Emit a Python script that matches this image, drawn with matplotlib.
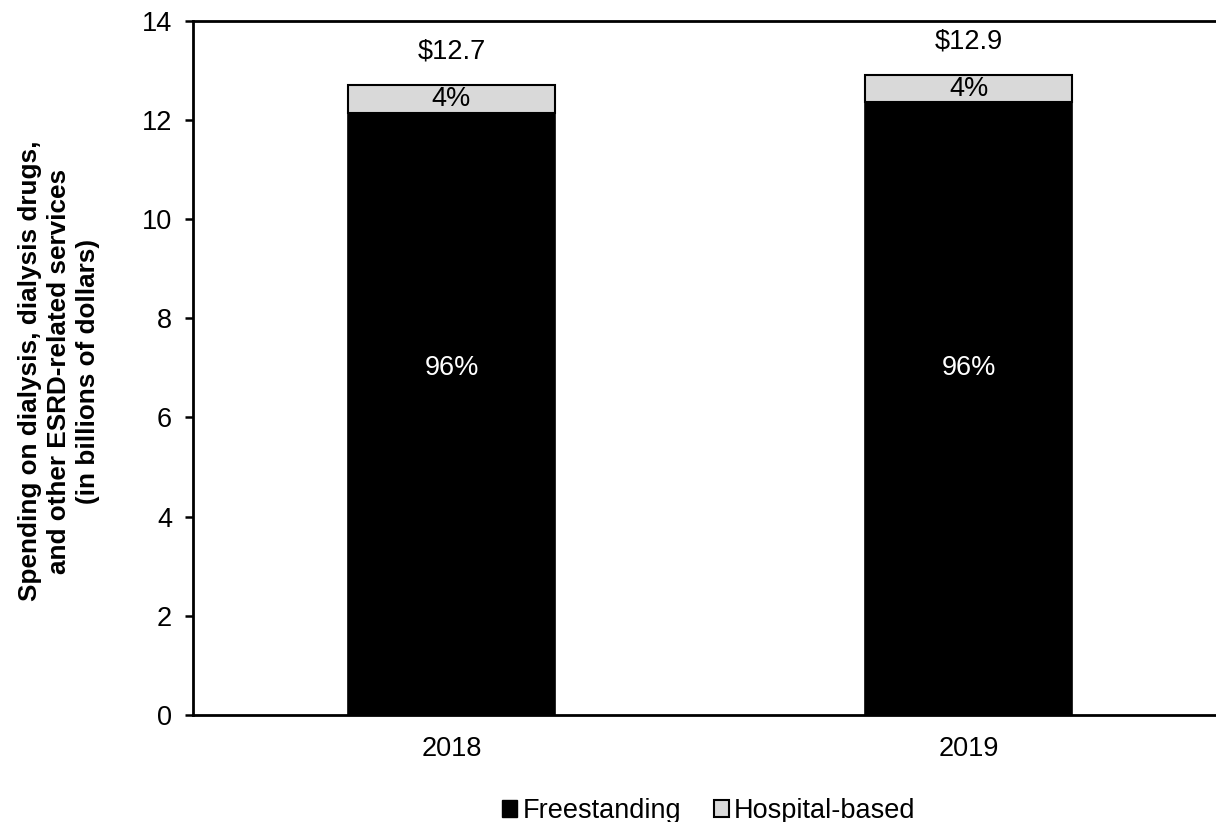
import matplotlib.pyplot as plt
from matplotlib.patches import Patch

plt.rcParams['font.family'] = ['Liberation Sans', 'DejaVu Sans']

# Data (billions of dollars)
years = ['2018', '2019']
freestanding = [12.14, 12.36]
hospital = [0.56, 0.54]
total_labels = ['$12.7', '$12.9']
free_pct = ['96%', '96%']
hosp_pct = ['4%', '4%']

FS = 19.5

fig = plt.figure(figsize=(12.16, 8.22), dpi=100)
ax = fig.add_axes([193 / 1216, 107 / 822, 1034 / 1216, 694.4 / 822])

x = list(range(len(years)))
ax.bar(x, freestanding, width=0.4, color='black', edgecolor='black', linewidth=1.2)
ax.bar(x, hospital, width=0.4, bottom=freestanding, color='#d9d9d9',
       edgecolor='black', linewidth=1.5)

for i in x:
    top = freestanding[i] + hospital[i]
    ax.text(i, top + 0.68, total_labels[i].replace('$', r'\$'), ha='center', va='center', fontsize=FS)
    ax.text(i, freestanding[i] + hospital[i] / 2, hosp_pct[i], ha='center', va='center', fontsize=FS)
    ax.text(i, 7.0, free_pct[i], ha='center', va='center', fontsize=FS, color='white')

ax.set_xlim(-0.5, 1.5)
ax.set_ylim(0, 14)
ax.set_yticks(range(0, 15, 2))
ax.set_xticks(x)
ax.set_xticklabels(years)
ax.tick_params(axis='y', labelsize=FS, length=6, width=1.8, pad=9)
ax.tick_params(axis='x', labelsize=FS, length=0, pad=15)
ax.spines['right'].set_visible(False)
for s in ['top', 'bottom', 'left']:
    ax.spines[s].set_linewidth(2)

fig.text(59 / 1216, 1 - 371 / 822,
         'Spending on dialysis, dialysis drugs,\nand other ESRD-related services\n(in billions of dollars)',
         rotation=90, ha='center', va='center', fontsize=18.8, fontweight='bold', linespacing=1.26)

handles = [Patch(facecolor='black', edgecolor='black', label='Freestanding'),
           Patch(facecolor='#d9d9d9', edgecolor='black', linewidth=1.5, label='Hospital-based')]
fig.legend(handles=handles, loc='center', bbox_to_anchor=(709 / 1216, 1 - 811 / 822),
           ncol=2, frameon=False, fontsize=FS, handlelength=0.55, handleheight=0.55,
           handletextpad=0.2, columnspacing=1.2)

fig.savefig('out.png', dpi=100)
